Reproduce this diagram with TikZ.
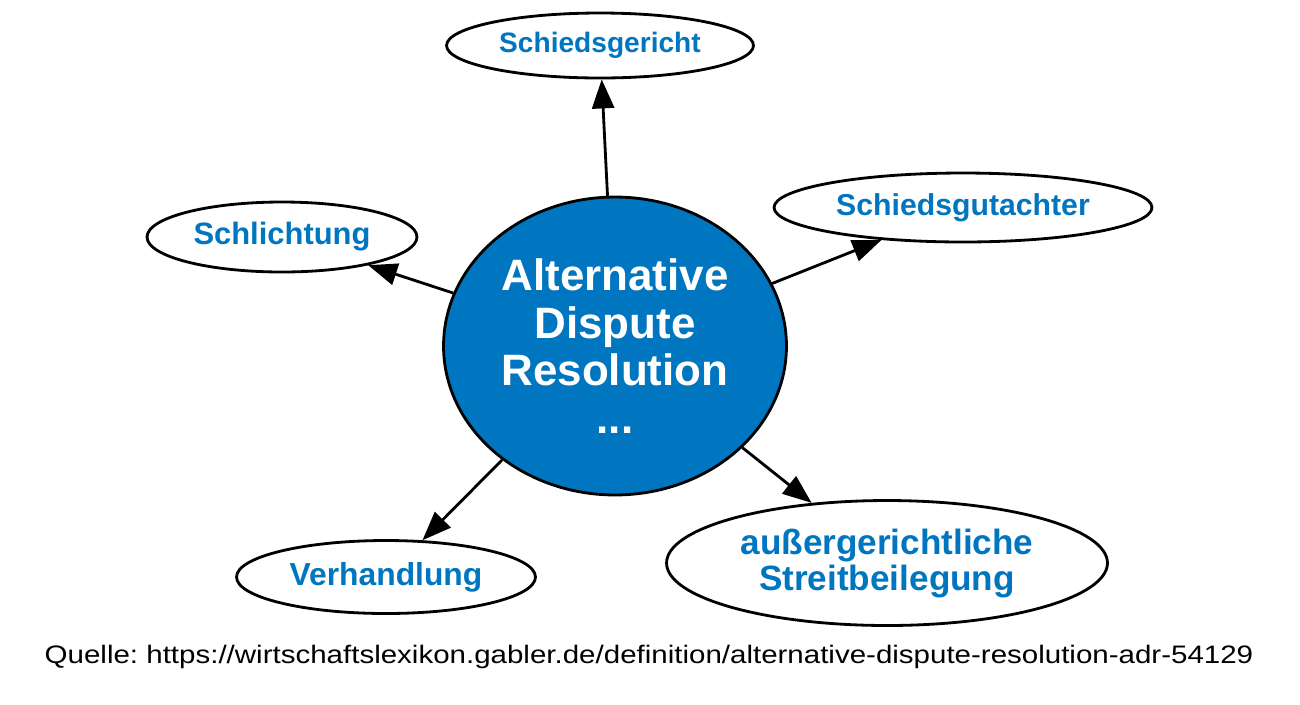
\documentclass[tikz,border=0pt]{standalone}
\usepackage{fontspec}
\setmainfont{Liberation Sans}
\usepackage{xcolor}
\usetikzlibrary{arrows.meta,shapes.geometric}
\definecolor{adrblue}{RGB}{0,118,192}

\begin{document}
\frenchspacing
\begin{tikzpicture}[x=0.02cm,y=-0.02cm,-{Triangle[length=0.58cm,width=0.44cm]},line width=1.6pt,
  begriff/.style={ellipse,draw,fill=white,inner sep=0pt,text=adrblue,align=center},
  haupt/.style={ellipse,draw,fill=adrblue,inner sep=0pt,text=white,align=center,
    font=\bfseries\fontsize{25}{27.2}\selectfont}]
   \useasboundingbox (0,0) rectangle (1300,704);
   \node[haupt,minimum width=6.86cm,minimum height=5.96cm] (ADR) at (615,346)
      {Alternative\\Dispute\\Resolution\\...};
   \node[begriff,minimum width=6.14cm,minimum height=1.3cm,font=\bfseries\fontsize{16}{19}\selectfont]
      (SG) at (600,45.5) {Schiedsgericht};
   \node[begriff,minimum width=7.56cm,minimum height=1.38cm,font=\bfseries\fontsize{17.2}{20}\selectfont]
      (SGU) at (963,207.5) {Schiedsgutachter};
   \node[begriff,minimum width=5.4cm,minimum height=1.4cm,font=\bfseries\fontsize{17.6}{20}\selectfont]
      (SL) at (282,237) {Schlichtung};
   \node[begriff,minimum width=5.98cm,minimum height=1.46cm,font=\bfseries\fontsize{18.1}{21}\selectfont]
      (VH) at (386,577) {Verhandlung};
   \node[begriff,minimum width=8.82cm,minimum height=2.5cm,font=\bfseries\fontsize{20}{20.5}\selectfont]
      (AS) at (887,563) {außergerichtliche\\Streitbeilegung};
   \node[anchor=base,inner sep=0pt,font=\fontsize{14.4}{17}\selectfont] (Q) at (649,663)
      {\scalebox{1.166}[1]{Quelle: https://wirtschaftslexikon.gabler.de/definition/alternative-dispute-resolution-adr-54129}};
    \path
    (ADR) edge (SG)
          edge (SGU)
          edge (SL)
          edge (VH)
          edge (AS);
\end{tikzpicture}
\end{document}
